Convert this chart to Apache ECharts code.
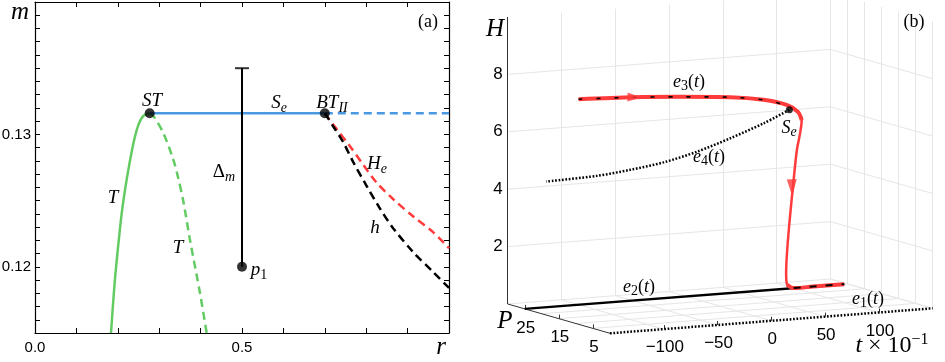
<!DOCTYPE html>
<html><head><meta charset="utf-8">
<script src="https://cdn.jsdelivr.net/npm/echarts@6/dist/echarts.min.js"></script>
<style>html,body{margin:0;padding:0;background:#fff}#c{width:945px;height:362px}</style>
</head><body><div id="c"></div>
<script>
// ================= Panel (a) data =================
const rRange = [0, 1.0];
const mRange = [0.115, 0.140];
const rTickLabels = [[0, '0.0'], [0.5, '0.5']];
const mTickLabels = [[0.12, '0.12'], [0.13, '0.13']];
const mSe = 0.1316;
const rST = 0.277;
const rBT = 0.700;
const TStable = [[0.1836,0.115],[0.193,0.1190],[0.205,0.1228],[0.2118,0.1246],[0.222,0.1267],[0.2375,0.1293],[0.2496,0.1307],[0.2617,0.1314],[0.277,0.1316]];
const TUnstable = [[0.277,0.1316],[0.2858,0.1314],[0.31,0.1301],[0.334,0.1281],[0.346,0.1267],[0.358,0.1250],[0.374,0.1221],[0.3986,0.1180],[0.4147,0.115]];
const HeCurve = [[0.700,0.1316],[0.7287,0.1304],[0.7609,0.1291],[0.793,0.1277],[0.8254,0.12635],[0.8655,0.1251],[0.9138,0.1238],[0.9621,0.1226],[1.0,0.1214]];
const hCurve = [[0.700,0.1316],[0.7205,0.1306],[0.7447,0.1294],[0.7688,0.1279],[0.8012,0.1261],[0.8333,0.1244],[0.8655,0.1229],[0.9138,0.1211],[0.9621,0.1196],[1.0,0.1184]];
const p1 = [0.5, 0.12];
const deltaTop = 0.135;

// ================= Panel (b) data =================
const tRange = [-150, 150];
const PRange = [0, 30];
const HRange = [0, 10];
const tTicks = [-100, -50, 0, 50, 100];
const tTickLabels = ['\u2212100', '\u221250', '0', '50', '100'];
const tGrid = [-100, -50, 0, 50, 100, 150];
const PTicks = [5, 15, 25];
const PTickLabels = ['5', '15', '25'];
const PGrid = [5, 10, 15, 20, 25];
const HTicks = [2, 4, 6, 8];
const HTickLabels = ['2', '4', '6', '8'];
const Pe1 = 0;      // e1 lies in plane P = 0
const Ptraj = 25;   // e2, e3, e4 and trajectory lie in plane P = 25
const e1 = [[-150, 0], [150, 0]];              // (t, H)
const e2 = [[-150, 0], [147, 0]];              // (t, H)
const e2Overlap = [[100, 0], [147, 0]];
const e3 = [[-100,7.16],[-49,7.08],[-6,6.97],[41,6.82],[72,6.64],[88,6.45],[96,6.22]];
const e4 = [[96,6.22],[72,5.82],[41,5.39],[10,5.01],[-21,4.73],[-52,4.56],[-83,4.44],[-130,4.38]];
const trajTop = [[-100,7.16],[-49,7.08],[-6,6.97],[41,6.82],[72,6.64],[93.5,6.40],[104,6.13],[107.5,5.83]];
const trajMid = [[104,6.13],[107.5,5.83],[106,5.38],[103,4.80],[100,3.77],[96.6,2.50],[94,1.34],[93,0.54],[94,0.13],[100,0.0]];
const trajBot = [[94,0.13],[100,0.0],[118,0.0],[147,0.0]];
const SePoint = [96, 6.22];
const arrowRight = [-48, 7.08];
const arrowDown = [98.5, 3.5];

// ---- 3D view (affine projection of the (t,P,H) box onto panel b) ----
const VIEW = {ox: 130, oy: 333.3, tx: 1.0756, ty: -0.0833, px: -3.41, py: -0.977, hy: -28.7};
const PANEL_B = {left: 480, top: 0, width: 465, height: 362};
function proj(t, P, H) {
  const u = t - tRange[0];
  return [VIEW.ox + u * VIEW.tx + P * VIEW.px, VIEW.oy + u * VIEW.ty + P * VIEW.py + H * VIEW.hy];
}
const projTH = (arr, P) => arr.map(d => proj(d[0], P, d[1]));
const seg = (a, b) => ({coords: [proj(a[0], a[1], a[2]), proj(b[0], b[1], b[2])]});

// grid segments
const gridSegs = [];
tGrid.forEach(t => gridSegs.push(seg([t, PRange[1], HRange[0]], [t, PRange[1], HRange[1]])));
HTicks.forEach(h => gridSegs.push(seg([tRange[0], PRange[1], h], [tRange[1], PRange[1], h])));
[0].concat(PGrid).forEach(p => gridSegs.push(seg([tRange[1], p, HRange[0]], [tRange[1], p, HRange[1]])));
HTicks.forEach(h => gridSegs.push(seg([tRange[1], PRange[1], h], [tRange[1], PRange[0], h])));
tGrid.forEach(t => gridSegs.push(seg([t, PRange[0], 0], [t, PRange[1], 0])));
PGrid.forEach(p => gridSegs.push(seg([tRange[0], p, 0], [tRange[1], p, 0])));
gridSegs.push(seg([tRange[0], PRange[1], 0], [tRange[1], PRange[1], 0]));
gridSegs.push(seg([tRange[1], PRange[1], 0], [tRange[1], PRange[0], 0]));

const axisSegs = [
  seg([tRange[0], PRange[1], HRange[0]], [tRange[0], PRange[1], HRange[1]]),
  seg([tRange[0], PRange[1], 0], [tRange[0], PRange[0], 0])
];
const tickLen = 0.14;
tTicks.forEach(t => axisSegs.push(seg([t, 0, 0], [t, 0, tickLen])));
PTicks.forEach(p => axisSegs.push(seg([tRange[0], p, 0], [tRange[0], p, tickLen])));

// ================= Text helpers =================
const SERIF = 'Liberation Serif';
const SANS = 'Liberation Sans';
function richMath(size) {
  return {
    i: {fontFamily: SERIF, fontStyle: 'italic', fontSize: size, lineHeight: size + 5, verticalAlign: 'middle', fill: '#000'},
    n: {fontFamily: SERIF, fontSize: size, lineHeight: size + 5, verticalAlign: 'middle', fill: '#000'},
    s: {fontFamily: SERIF, fontStyle: 'italic', fontSize: Math.round(size * 0.76), lineHeight: Math.round(size * 0.62), verticalAlign: 'bottom', fill: '#000'},
    sn: {fontFamily: SERIF, fontSize: Math.round(size * 0.76), lineHeight: Math.round(size * 0.62), verticalAlign: 'bottom', fill: '#000'},
    sup: {fontFamily: SERIF, fontSize: Math.round(size * 0.66), lineHeight: Math.round(size * 0.72), verticalAlign: 'top', fill: '#000'}
  };
}
function mtext(text, x, y, size, align) {
  return {type: 'text', x: x, y: y, silent: true, z: 100,
    style: {text: text, rich: richMath(size), align: align || 'center', verticalAlign: 'middle', fill: '#000', font: size + 'px ' + SERIF}};
}
function ptext(text, x, y, size, align) {
  return {type: 'text', x: x, y: y, silent: true, z: 100,
    style: {text: text, align: align || 'center', verticalAlign: 'middle', fill: '#000', font: size + 'px ' + SANS}};
}

const graphics = [
  // panel a
  mtext('{i|m}', 20, 12, 25),
  mtext('{i|r}', 441, 347, 25),
  mtext('{i|ST}', 152, 101, 19),
  mtext('{i|S}{s|e}', 279, 103, 19),
  mtext('{i|BT}{s|II}', 332, 103, 19),
  mtext('{n|Δ}{s|m}', 224, 172, 19),
  mtext('{i|T}', 113, 198, 19),
  mtext('{i|T}', 178, 248, 19),
  mtext('{i|H}{s|e}', 377, 164, 19),
  mtext('{i|h}', 375, 228, 19),
  mtext('{i|p}{sn|1}', 259, 270, 19),
  mtext('{n|(a)}', 428, 22, 18),
  // panel b
  mtext('{i|H}', 495, 29, 25),
  mtext('{i|P}', 505, 321, 25),
  mtext('{n|(b)}', 914, 22, 18),
  mtext('{i|e}{sn|3}{n|(}{i|t}{n|)}', 689, 82, 18),
  mtext('{i|e}{sn|4}{n|(}{i|t}{n|)}', 709, 157, 18),
  mtext('{i|S}{s|e}', 789, 128, 18),
  mtext('{i|e}{sn|2}{n|(}{i|t}{n|)}', 639, 287, 18),
  mtext('{i|e}{sn|1}{n|(}{i|t}{n|)}', 868, 299, 18),
  mtext('{i|t}{n| × 10}{sup|−1}', 892, 346, 24)
];
tTicks.forEach((t, k) => { const p = proj(t, 0, 0); graphics.push(ptext(tTickLabels[k], PANEL_B.left + p[0] + 1, PANEL_B.top + p[1] + 18.5, 17)); });
PTicks.forEach((v, k) => { const p = proj(tRange[0], v, 0); graphics.push(ptext(PTickLabels[k], PANEL_B.left + p[0] + 1, PANEL_B.top + p[1] + 19, 17)); });
HTicks.forEach((v, k) => { const p = proj(tRange[0], PRange[1], v); graphics.push(ptext(HTickLabels[k], PANEL_B.left + p[0] - 5, PANEL_B.top + p[1], 17, 'right')); });

// ================= Chart =================
const chart = echarts.init(document.getElementById('c'), null, {renderer: 'canvas'});
const near = (a, b) => Math.abs(a - b) < 1e-7;
const blue = '#4a97e2', green = '#62cc62', red = '#ff3b3b';
const axisCommon = {
  axisLine: {show: true, onZero: false, lineStyle: {color: '#000', width: 1.2}},
  axisTick: {show: true, inside: true, length: 5, lineStyle: {color: '#000', width: 1}},
  splitLine: {show: false}
};
function lineS(data, color, width, type, smooth, xi, yi, z) {
  return {type: 'line', data: data, xAxisIndex: xi, yAxisIndex: yi, showSymbol: false, symbol: 'none',
    smooth: smooth, z: z || 2, lineStyle: {color: color, width: width, type: type || 'solid', cap: 'butt'}, silent: true};
}

const option = {
  animation: false,
  backgroundColor: '#fff',
  grid: [
    {left: 35, top: 2, width: 414, height: 331, containLabel: false, outerBoundsMode: 'none'},
    {left: PANEL_B.left, top: PANEL_B.top, width: PANEL_B.width, height: PANEL_B.height, containLabel: false, outerBoundsMode: 'none'}
  ],
  xAxis: [
    Object.assign({type: 'value', gridIndex: 0, position: 'bottom', min: rRange[0], max: rRange[1], interval: 0.1,
      axisLabel: {show: true, margin: 7, color: '#000', fontFamily: SANS, fontSize: 15,
        formatter: v => { const f = rTickLabels.find(d => near(d[0], v)); return f ? f[1] : ''; }}}, axisCommon),
    Object.assign({type: 'value', gridIndex: 0, position: 'top', min: rRange[0], max: rRange[1], interval: 0.1,
      axisLabel: {show: false}}, axisCommon),
    {type: 'value', gridIndex: 1, min: 0, max: PANEL_B.width, show: false}
  ],
  yAxis: [
    Object.assign({type: 'value', gridIndex: 0, position: 'left', min: mRange[0], max: mRange[1], interval: 0.001,
      axisLabel: {show: true, margin: 4, color: '#000', fontFamily: SANS, fontSize: 15,
        formatter: v => { const f = mTickLabels.find(d => near(d[0], v)); return f ? f[1] : ''; }}}, axisCommon),
    Object.assign({type: 'value', gridIndex: 0, position: 'right', min: mRange[0], max: mRange[1], interval: 0.001,
      axisLabel: {show: false}}, axisCommon),
    {type: 'value', gridIndex: 1, min: 0, max: PANEL_B.height, inverse: true, show: false}
  ],
  series: [
    // ---- panel a ----
    lineS(TStable, green, 2.5, 'solid', 0.3, 0, 0),
    lineS(TUnstable, green, 2.5, [8, 5], 0.3, 0, 0),
    lineS([[rST, mSe], [rBT, mSe]], blue, 2.5, 'solid', false, 0, 0),
    lineS([[rBT, mSe], [rRange[1], mSe]], blue, 2.5, [8, 5], false, 0, 0),
    lineS(HeCurve, red, 2.5, [8, 5], 0.3, 0, 0),
    lineS(hCurve, '#000', 2.5, [8, 5], 0.3, 0, 0),
    lineS([p1, [p1[0], deltaTop]], '#000', 2, 'solid', false, 0, 0),
    {type: 'scatter', xAxisIndex: 0, yAxisIndex: 0, symbol: 'rect', symbolSize: [14, 2], z: 5, silent: true,
      itemStyle: {color: '#000'}, data: [[p1[0], deltaTop]]},
    {type: 'scatter', xAxisIndex: 0, yAxisIndex: 0, symbol: 'circle', symbolSize: 10, z: 6, silent: true,
      itemStyle: {color: '#000'}, data: [[rST, mSe], [rBT, mSe], p1]},
    // ---- panel b ----
    {type: 'lines', coordinateSystem: 'cartesian2d', xAxisIndex: 2, yAxisIndex: 2, silent: true, z: 1,
      lineStyle: {color: '#e6e6e6', width: 1, opacity: 1, curveness: 0}, data: gridSegs},
    {type: 'lines', coordinateSystem: 'cartesian2d', xAxisIndex: 2, yAxisIndex: 2, silent: true, z: 2,
      lineStyle: {color: '#333', width: 1, opacity: 1, curveness: 0}, data: axisSegs},
    lineS(projTH(e1, Pe1), '#000', 2.5, [1.7, 1.7], false, 2, 2),
    lineS(projTH(e4, Ptraj), '#000', 2.5, [1.7, 1.7], 0.3, 2, 2),
    lineS(projTH(e2, Ptraj), '#000', 2.5, 'solid', false, 2, 2),
    lineS(projTH(trajTop, Ptraj), red, 4, 'solid', 0.3, 2, 2, 3),
    lineS(projTH(trajMid, Ptraj), red, 2.5, 'solid', 0.3, 2, 2, 3),
    lineS(projTH(trajBot, Ptraj), red, 4, 'solid', 0.3, 2, 2, 3),
    lineS(projTH(e3, Ptraj), '#000', 1.6, [4, 14], 0.3, 2, 2, 4),
    lineS(projTH(e2Overlap, Ptraj), '#000', 2, [7, 9], false, 2, 2, 4),
    {type: 'scatter', xAxisIndex: 2, yAxisIndex: 2, symbol: 'circle', symbolSize: 7, z: 6, silent: true,
      itemStyle: {color: '#000'}, data: [proj(SePoint[0], Ptraj, SePoint[1])]},
    {type: 'scatter', xAxisIndex: 2, yAxisIndex: 2, symbol: 'triangle', symbolSize: [9, 14], symbolRotate: -92, z: 7, silent: true,
      itemStyle: {color: red}, data: [proj(arrowRight[0], Ptraj, arrowRight[1])]},
    {type: 'scatter', xAxisIndex: 2, yAxisIndex: 2, symbol: 'triangle', symbolSize: [10, 17], symbolRotate: 182, z: 7, silent: true,
      itemStyle: {color: red}, data: [proj(arrowDown[0], Ptraj, arrowDown[1])]}
  ],
  graphic: {elements: graphics}
};
chart.setOption(option);
</script>
</body></html>
